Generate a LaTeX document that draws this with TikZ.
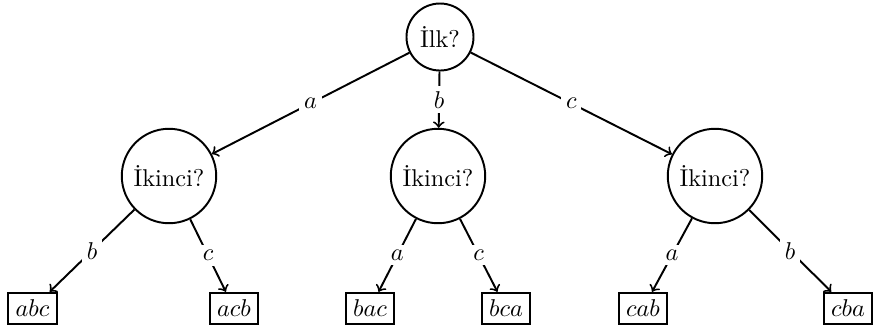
\documentclass[tikz,border=0pt]{standalone}
\begin{document}
\begin{tikzpicture}[x=0.4115pt,y=-0.4115pt,
  q/.style={draw,circle,thick,inner sep=3.33pt},
  leaf/.style={draw,rectangle,thick,inner sep=3pt},
  edge/.style={->,thick},
  lbl/.style={fill=white,inner sep=2pt,midway}]
\useasboundingbox (0,0) rectangle (873,328);
\node[q] (r) at (440,37) {İlk?};
\node[q] (A) at (169,176) {İkinci?};
\node[q] (B) at (438,176) {İkinci?};
\node[q] (C) at (715,176) {İkinci?};
\node[leaf] (abc) at (32.5,308.5) {$abc$};
\node[leaf] (acb) at (234,308.5) {$acb$};
\node[leaf] (bac) at (370,308.5) {$bac$};
\node[leaf] (bca) at (506,308.5) {$bca$};
\node[leaf] (cab) at (643,308.5) {$cab$};
\node[leaf] (cba) at (848,308.5) {$cba$};
\draw[edge] (r) -- node[lbl] {$a$} (A);
\draw[edge] (r) -- node[lbl] {$b$} (B);
\draw[edge] (r) -- node[lbl] {$c$} (C);
\draw[edge] (A) -- node[lbl] {$b$} (abc);
\draw[edge] (A) -- node[lbl] {$c$} (acb);
\draw[edge] (B) -- node[lbl] {$a$} (bac);
\draw[edge] (B) -- node[lbl] {$c$} (bca);
\draw[edge] (C) -- node[lbl] {$a$} (cab);
\draw[edge] (C) -- node[lbl] {$b$} (cba);
\end{tikzpicture}
\end{document}
